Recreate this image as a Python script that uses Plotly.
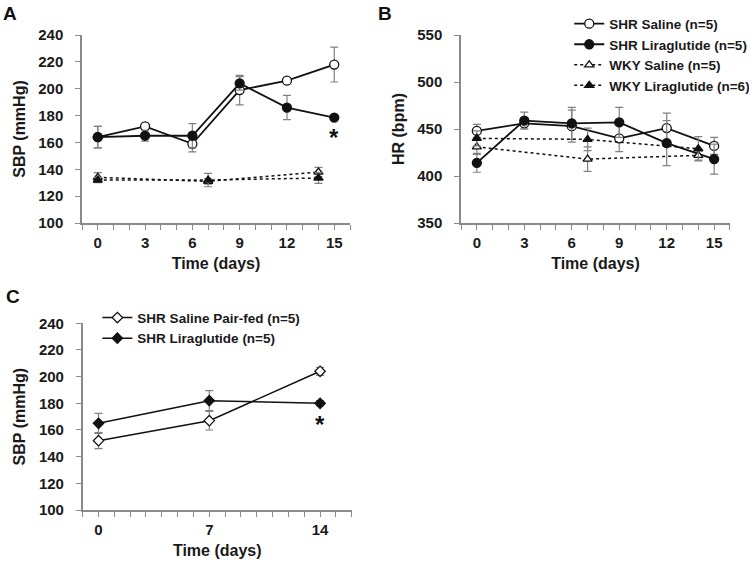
import plotly.graph_objects as go

# ---------------- data ----------------
days_A = [0, 3, 6, 9, 12, 15]
days_wky = [0, 7, 14]
days_C = [0, 7, 14]

sbp_shr_saline = [164, 172, 159, 199, 206, 218]
sbp_shr_saline_err = [8, 2, 6, 11, 2, 13]
sbp_shr_lira = [164, 165, 165, 204, 186, 178.5]
sbp_shr_lira_err = [8, 4, 9, 5, 9, 1.5]
sbp_wky_saline = [134, 131, 138]
sbp_wky_saline_err = [3.5, 2, 3.5]
sbp_wky_lira = [132, 132, 133.5]
sbp_wky_lira_err = [2, 5, 4]

hr_shr_saline = [448, 456, 453, 440, 451, 432]
hr_shr_saline_err = [7, 6, 17, 14, 16, 9]
hr_shr_lira = [414, 459, 456, 457, 435, 418]
hr_shr_lira_err = [10, 9, 17, 16, 24, 16]
hr_wky_saline = [431, 418, 422]
hr_wky_saline_err = [8, 13, 5]
hr_wky_lira = [440, 439, 429]
hr_wky_lira_err = [8, 12, 13]

sbp_pairfed = [152, 167, 204]
sbp_pairfed_err = [6, 7, 3]
sbp_lira_C = [165, 182, 180]
sbp_lira_C_err = [7.5, 7.5, 2]

names_B = ["SHR Saline (n=5)", "SHR Liraglutide (n=5)", "WKY Saline (n=5)", "WKY Liraglutide (n=6)"]
names_C = ["SHR Saline Pair-fed (n=5)", "SHR Liraglutide (n=5)"]
x_ticks_AB = [0, 3, 6, 9, 12, 15]
x_ticks_C = [0, 7, 14]

FONT = "Liberation Sans, Arial, sans-serif"
ERRC = "#808080"
AXC = "#8a8a8a"


def err(vals):
    return dict(type="data", array=vals, visible=True, color=ERRC, thickness=1.2, width=4)


def trace(x, y, e, name, symbol, fill, dash, xa, ya, show, legend="legend", size=9, lw=1.8):
    return go.Scatter(
        x=x, y=y, error_y=err(e), name=name, mode="lines+markers",
        line=dict(color="#111", width=lw, dash=dash),
        marker=dict(symbol=symbol, size=size, color=fill, line=dict(color="#111", width=1.3)),
        xaxis=xa, yaxis=ya, showlegend=show, legend=legend,
    )


fig = go.Figure()
# Panel A
fig.add_trace(trace(days_wky, sbp_wky_saline, sbp_wky_saline_err, names_B[2], "triangle-up", "white", "dot", "x", "y", False, size=8, lw=1.5))
fig.add_trace(trace(days_wky, sbp_wky_lira, sbp_wky_lira_err, names_B[3], "triangle-up", "#111", "dot", "x", "y", False, size=8, lw=1.5))
fig.add_trace(trace(days_A, sbp_shr_saline, sbp_shr_saline_err, names_B[0], "circle", "white", "solid", "x", "y", False))
fig.add_trace(trace(days_A, sbp_shr_lira, sbp_shr_lira_err, names_B[1], "circle", "#111", "solid", "x", "y", False))
# Panel B
fig.add_trace(trace(days_A, hr_shr_saline, hr_shr_saline_err, names_B[0], "circle", "white", "solid", "x2", "y2", True))
fig.add_trace(trace(days_A, hr_shr_lira, hr_shr_lira_err, names_B[1], "circle", "#111", "solid", "x2", "y2", True))
fig.add_trace(trace(days_wky, hr_wky_saline, hr_wky_saline_err, names_B[2], "triangle-up", "white", "dot", "x2", "y2", True, size=8, lw=1.5))
fig.add_trace(trace(days_wky, hr_wky_lira, hr_wky_lira_err, names_B[3], "triangle-up", "#111", "dot", "x2", "y2", True, size=8, lw=1.5))
# Panel C
fig.add_trace(trace(days_C, sbp_pairfed, sbp_pairfed_err, names_C[0], "diamond", "white", "solid", "x3", "y3", True, legend="legend2", size=8, lw=1.5))
fig.add_trace(trace(days_C, sbp_lira_C, sbp_lira_C_err, names_C[1], "diamond", "#111", "solid", "x3", "y3", True, legend="legend2", size=8, lw=1.5))

tickfont = dict(family=FONT, size=15, color="#1a1a1a", weight="bold")
titlefont = dict(family=FONT, size=16, color="#1a1a1a", weight="bold")


def xax(domain, anchor, tickvals):
    return dict(domain=domain, anchor=anchor, range=[-1, 16], showline=True, linecolor=AXC, linewidth=1.5,
                ticks="outside", ticklen=5, tickcolor=AXC, tickwidth=1.2, tickvals=tickvals,
                minor=dict(dtick=1, tick0=0, ticks="outside", ticklen=5, tickcolor=AXC, tickwidth=1.2),
                showgrid=False, zeroline=False, tickfont=tickfont, ticklabelstandoff=0, automargin=False,
                title=dict(text="Time (days)", font=titlefont, standoff=8))


def yax(domain, anchor, rng, dtick, title):
    return dict(domain=domain, anchor=anchor, range=rng, dtick=dtick, showline=True, linecolor=AXC, linewidth=1.5,
                ticks="outside", ticklen=5, tickcolor=AXC, tickwidth=1.2, showgrid=False, zeroline=False,
                tickfont=tickfont, ticklabelstandoff=9, automargin=False,
                title=dict(text=title, font=titlefont, standoff=9))


legfont = dict(family=FONT, size=13.5, color="#1a1a1a", weight="bold")

fig.update_layout(
    width=749, height=563, autosize=False, margin=dict(l=0, r=0, t=0, b=0, pad=0, autoexpand=False),
    paper_bgcolor="white", plot_bgcolor="white",
    font=dict(family=FONT, weight="bold"),
    xaxis=xax([0.1095, 0.4673], "y", x_ticks_AB),
    yaxis=yax([0.6039, 0.9378], "x", [100, 240], 20, "SBP (mmHg)"),
    xaxis2=xax([0.6155, 0.9746], "y2", x_ticks_AB),
    yaxis2=yax([0.6039, 0.9378], "x2", [350, 550], 50, "HR (bpm)"),
    xaxis3=xax([0.1104, 0.4696], "y3", x_ticks_C),
    yaxis3=yax([0.0941, 0.4258], "x3", [100, 240], 20, "SBP (mmHg)"),
    legend=dict(x=0.76, y=0.985, xanchor="left", yanchor="top", font=legfont,
                bgcolor="rgba(0,0,0,0)", tracegroupgap=0, itemwidth=30),
    legend2=dict(x=0.13, y=0.463, xanchor="left", yanchor="top", font=legfont,
                 bgcolor="rgba(0,0,0,0)", tracegroupgap=0),
    showlegend=True,
    annotations=[
        dict(text="A", x=0.002, y=0.998, xref="paper", yref="paper", xanchor="left", yanchor="top",
             showarrow=False, font=dict(family=FONT, size=19, color="#111", weight="bold")),
        dict(text="B", x=0.502, y=0.998, xref="paper", yref="paper", xanchor="left", yanchor="top",
             showarrow=False, font=dict(family=FONT, size=19, color="#111", weight="bold")),
        dict(text="C", x=0.005, y=0.495, xref="paper", yref="paper", xanchor="left", yanchor="top",
             showarrow=False, font=dict(family=FONT, size=19, color="#111", weight="bold")),
        dict(text="*", x=15, y=164, xref="x", yref="y", showarrow=False,
             font=dict(family=FONT, size=24, color="#111", weight="bold")),
        dict(text="*", x=14, y=164, xref="x3", yref="y3", showarrow=False,
             font=dict(family=FONT, size=24, color="#111", weight="bold")),
    ],
)

fig.write_html("out.html", post_script="document.body.style.margin='0';",
               config={"displayModeBar": False})
